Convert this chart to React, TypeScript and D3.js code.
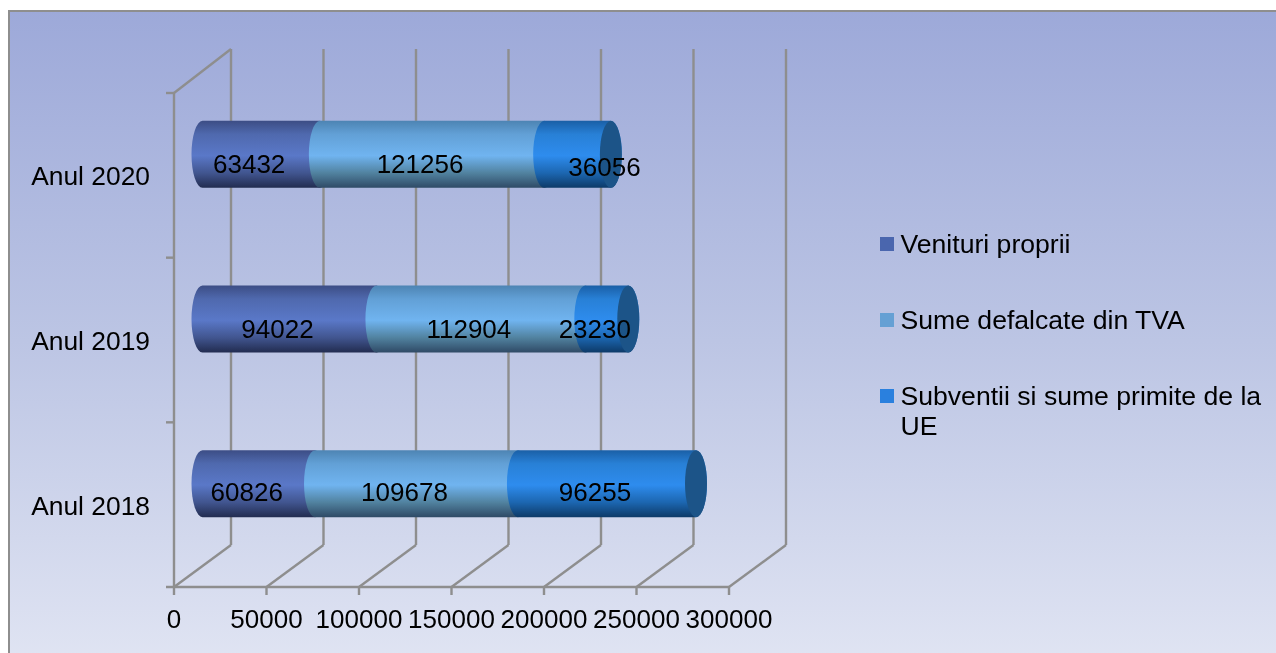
import React from "react";
import * as d3 from "d3";

const years = ["Anul 2018", "Anul 2019", "Anul 2020"];
const venituriProprii = [60826, 94022, 63432];
const sumeDefalcate = [109678, 112904, 121256];
const subventii = [96255, 23230, 36056];
const seriesNames = ["Venituri proprii", "Sume defalcate din TVA", "Subventii si sume primite de la UE"];
const xTicks = [0, 50000, 100000, 150000, 200000, 250000, 300000];

const series = [venituriProprii, sumeDefalcate, subventii];

const FONT = "'Liberation Sans', Arial, sans-serif";
const GRID = "#8e8e8e";
const gradients = [
  [["0", "#3c4d85"], ["0.2", "#4f69ae"], ["0.52", "#5a78c8"], ["0.78", "#41558f"], ["1", "#222c50"]],
  [["0", "#4d84b3"], ["0.2", "#62a0d6"], ["0.52", "#70b4f0"], ["0.78", "#51829f"], ["1", "#2f4a66"]],
  [["0", "#1a5fa6"], ["0.2", "#2880d6"], ["0.52", "#2e8cee"], ["0.78", "#1c66b0"], ["1", "#0d3a68"]],
];
const legendColors = ["#4a66ae", "#65a0d4", "#2a80de"];

// label nudge for the hand-moved data label: [seriesIndex, categoryIndex, dx, dy]
const labelNudges = [[2, 2, 39, 3]];
const labelRowDy = [17.5, 19, 19];

const x = d3.scaleLinear().domain([0, 300000]).range([174, 729]);
const y = d3.scaleBand().domain(years.slice().reverse()).range([93, 587]);
const depthX = 57;
const floorDepth = 42;
const topDepth = 44;
const barH = 67;
const rx = 11;
const ry = barH / 2;

const segment = (x0: number, x1: number, cy: number) => {
  const t = cy - ry;
  const b = cy + ry;
  const p = d3.path();
  p.moveTo(x0, t);
  p.lineTo(x1, t);
  return `${p.toString()} A${rx},${ry} 0 0 1 ${x1},${b} L${x0},${b} A${rx},${ry} 0 0 1 ${x0},${t} Z`;
};

export default function App() {
  const grid = xTicks.map((t) => {
    const px = x(t);
    return (
      <g key={t} stroke={GRID} strokeWidth={2.4} fill="none">
        <line x1={px + depthX} x2={px + depthX} y1={587 - floorDepth} y2={93 - topDepth} />
        <line x1={px} y1={587} x2={px + depthX} y2={587 - floorDepth} />
        <line x1={px} x2={px} y1={587} y2={595} />
      </g>
    );
  });

  return (
    <svg
      width={1276}
      height={653}
      style={{ position: "fixed", left: 0, top: 0, display: "block" }}
      fontFamily={FONT}
    >
      <defs>
        <linearGradient id="bg" x1="0" y1="0" x2="0" y2="1">
          <stop offset="0" stopColor="#9da9d9" />
          <stop offset="0.5" stopColor="#bcc5e4" />
          <stop offset="1" stopColor="#e1e5f3" />
        </linearGradient>
        {gradients.map((g, i) => (
          <linearGradient key={i} id={`s${i}`} x1="0" y1="0" x2="0" y2="1">
            {g.map(([o, c]) => (
              <stop key={o} offset={o} stopColor={c} />
            ))}
          </linearGradient>
        ))}
      </defs>

      <rect x={9} y={11} width={1280} height={660} fill="url(#bg)" stroke={GRID} strokeWidth={2} />

      <g style={{ filter: "blur(0.45px)" }}>
        {grid}
        <line x1={174} x2={174} y1={93} y2={587} stroke={GRID} strokeWidth={2.4} />
        <line x1={174} y1={93} x2={174 + depthX} y2={93 - topDepth} stroke={GRID} strokeWidth={2.4} />
        <line x1={166} x2={729} y1={587} y2={587} stroke={GRID} strokeWidth={2.4} />
        {y.domain().map((d) => (
          <line key={d} x1={166} x2={174} y1={y(d)!} y2={y(d)!} stroke={GRID} strokeWidth={2.4} />
        ))}

        {years.map((yr, ci) => {
          const cy = y(yr)! + y.bandwidth() / 2 - floorDepth / 2;
          let acc = 0;
          const shift = depthX / 2;
          return (
            <g key={yr}>
              {series.map((s, si) => {
                const x0 = x(acc) + shift;
                acc += s[ci];
                const x1 = x(acc) + shift;
                return <path key={si} d={segment(x0, x1, cy)} fill={`url(#s${si})`} />;
              })}
              <ellipse cx={x(acc) + shift} cy={cy} rx={rx} ry={ry} fill="#1c5488" />
            </g>
          );
        })}

        {years.map((yr, ci) => {
          const cy = y(yr)! + y.bandwidth() / 2 - floorDepth / 2;
          let acc = 0;
          return series.map((s, si) => {
            const mid = x(acc + s[ci] / 2) + depthX / 2;
            acc += s[ci];
            const n = labelNudges.find((l) => l[0] === si && l[1] === ci);
            return (
              <text
                key={`${yr}${si}`}
                x={mid - 12 + (n ? n[2] : 0)}
                y={cy + labelRowDy[ci] + (n ? n[3] : 0)}
                fontSize={26}
                textAnchor="middle"
                fill="#000"
              >
                {s[ci]}
              </text>
            );
          });
        })}

        {years.map((yr) => (
          <text
            key={yr}
            x={150}
            y={y(yr)! + y.bandwidth() / 2 + 10}
            fontSize={26.4}
            textAnchor="end"
            fill="#000"
          >
            {yr}
          </text>
        ))}

        {xTicks.map((t) => (
          <text key={t} x={x(t)} y={628} fontSize={26} textAnchor="middle" fill="#000">
            {t}
          </text>
        ))}

        {seriesNames.map((name, i) => {
          const top = 237 + i * 76;
          const lines = i === 2 ? [name.slice(0, name.length - 3), name.slice(-2)] : [name];
          return (
            <g key={name}>
              <rect x={880} y={top} width={14} height={14} fill={legendColors[i]} />
              {lines.map((l, j) => (
                <text key={l} x={900.5} y={top + 16 + j * 30} fontSize={26.6} fill="#000">
                  {l}
                </text>
              ))}
            </g>
          );
        })}
      </g>
    </svg>
  );
}
